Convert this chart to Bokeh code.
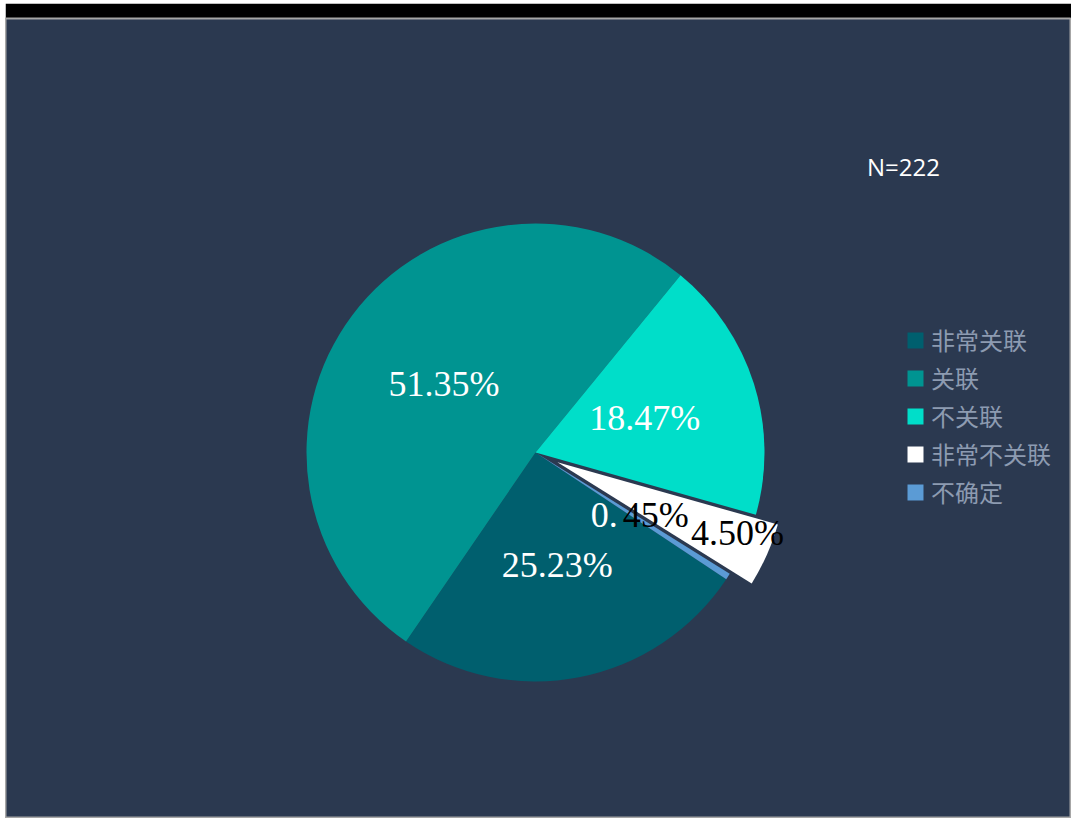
import numpy as np
from bokeh.plotting import figure
from bokeh.models import ColumnDataSource, Legend, LegendItem, Range1d
from bokeh.core.properties import value
from bokeh.embed import file_html
from bokeh.resources import INLINE

# ---- data ----
categories = ["非常关联", "关联", "不关联", "非常不关联", "不确定"]
shares = [25.23, 51.35, 18.47, 4.50, 0.45]
labels = ["25.23%", "51.35%", "18.47%", "4.50%", "0.45%"]
label_colors = ["#FFFFFF", "#FFFFFF", "#FFFFFF", "#000000", "#FFFFFF"]
colors = ["#005F6E", "#009491", "#00DEC9", "#FFFFFF", "#5B9BD5"]
explode = [0, 0, 0, 24, 0]
label_r = [0.5, 0.5, 0.5, 0.86, 0.5]
label_dy = [0, 0, 0, -9, 0]
sample_note = "N=222"

# ---- layout (data units == screen pixels) ----
LEFT, TOP_BAND = 5, 15
W, H = 1066, 800
cx, cy, R = 535, 366, 229
start_deg = -33.6  # first slice begins here and slices run clockwise

vals = np.array(shares, dtype=float)
frac = vals / vals.sum()
c1 = np.cumsum(frac) * 2 * np.pi
c0 = c1 - frac * 2 * np.pi
s0 = np.deg2rad(start_deg)
a_start = s0 - c1
a_end = s0 - c0
mid = (a_start + a_end) / 2
ex = np.array(explode, dtype=float)
xs = cx + ex * np.cos(mid)
ys = cy + ex * np.sin(mid)
lr = np.array(label_r) * R
lx = xs + lr * np.cos(mid)
ly = ys + lr * np.sin(mid)

src = ColumnDataSource(dict(x=xs, y=ys, start=a_start, end=a_end, color=colors, cat=categories))

p = figure(width=W, height=H + TOP_BAND, output_backend="svg", toolbar_location=None,
           x_range=Range1d(LEFT, LEFT + W), y_range=Range1d(0, H), title=None,
           min_border=0, min_border_top=TOP_BAND)
p.margin = (3, 0, 0, LEFT)
p.axis.visible = False
p.grid.visible = False
p.background_fill_color = "#2B3950"
p.border_fill_color = "#000000"
p.outline_line_color = "#A6A6A6"
p.outline_line_width = 2

wr = p.wedge(x="x", y="y", radius=R, start_angle="start", end_angle="end",
             fill_color="color", line_color=None, source=src)

# data labels
serif = value("Liberation Serif")
FS = "36px"
for i, lab in enumerate(labels):
    if lab.startswith("0."):
        head, tail = lab[:2], lab[2:]
        p.text(x=[lx[i]], y=[ly[i]], text=[head], text_align="right", text_baseline="middle",
               x_offset=-14, y_offset=label_dy[i], text_font=serif, text_font_size=FS,
               text_color="#FFFFFF")
        p.text(x=[lx[i]], y=[ly[i]], text=[tail], text_align="left", text_baseline="middle",
               x_offset=-9, y_offset=label_dy[i], text_font=serif, text_font_size=FS,
               text_color="#000000")
    else:
        p.text(x=[lx[i]], y=[ly[i]], text=[lab], text_align="center", text_baseline="middle",
               y_offset=label_dy[i], text_font=serif, text_font_size=FS,
               text_color=label_colors[i])

# sample size note
p.text(x=[903], y=[H + 18 - 166], text=[sample_note], text_align="center", text_baseline="middle",
       text_font=value("Open Sans"), text_font_size="24px", text_color="#FFFFFF")

items = [LegendItem(label=c, renderers=[wr], index=i) for i, c in enumerate(categories)]
legend = Legend(items=items, location=(900, 309), orientation="vertical",
                glyph_width=20, glyph_height=20, label_standoff=6, spacing=3,
                padding=0, margin=0, label_height=20,
                label_text_font="Noto Sans CJK SC", label_text_font_size="24px",
                label_text_color="#8D9BB1", background_fill_alpha=0, border_line_alpha=0)
p.add_layout(legend)

open("out.html", "w").write(file_html(p, INLINE))
